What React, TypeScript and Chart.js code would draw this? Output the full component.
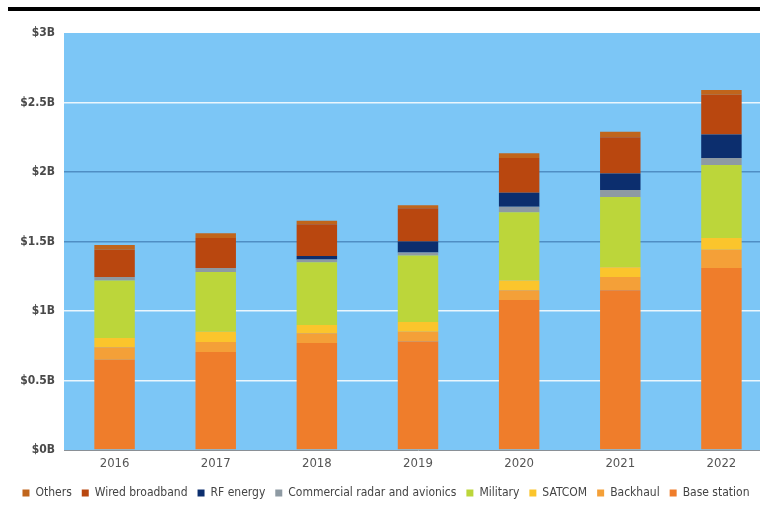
import React, { useEffect, useRef } from "react";
import { Chart, registerables } from "chart.js";

Chart.register(...registerables);

// Market size by segment, $ billions
const years = ["2016", "2017", "2018", "2019", "2020", "2021", "2022"];
const baseStation = [0.65, 0.705, 0.77, 0.78, 1.08, 1.15, 1.31];
const backhaul = [0.09, 0.072, 0.07, 0.07, 0.07, 0.095, 0.13];
const satcom = [0.065, 0.073, 0.06, 0.07, 0.07, 0.07, 0.085];
const military = [0.415, 0.43, 0.45, 0.48, 0.49, 0.505, 0.525];
const commercialRadar = [0.025, 0.03, 0.02, 0.02, 0.04, 0.05, 0.05];
const rfEnergy = [0, 0, 0.025, 0.08, 0.1, 0.12, 0.17];
const wiredBroadband = [0.195, 0.215, 0.23, 0.24, 0.25, 0.26, 0.285];
const others = [0.035, 0.035, 0.025, 0.02, 0.035, 0.04, 0.035];

const yTicks = [0, 0.5, 1, 1.5, 2, 2.5, 3];
const yTickLabels = ["$0B", "$0.5B", "$1B", "$1.5B", "$2B", "$2.5B", "$3B"];

const FONT = "'Liberation Sans Narrow', 'DejaVu Sans Condensed', sans-serif";

const plotBackground = {
  id: "plotBackground",
  beforeDraw(chart: any) {
    const { ctx, chartArea: a } = chart;
    ctx.save();
    ctx.fillStyle = "#7cc6f6";
    ctx.fillRect(a.left, a.top, a.right - a.left, a.bottom - a.top);
    ctx.restore();
  },
};

export default function App() {
  const canvasRef = useRef<HTMLCanvasElement | null>(null);

  useEffect(() => {
    if (!canvasRef.current) return;
    const series = [
      { label: "Base station", data: baseStation, color: "#ef7d2b" },
      { label: "Backhaul", data: backhaul, color: "#f4a038" },
      { label: "SATCOM", data: satcom, color: "#fbc52c" },
      { label: "Military", data: military, color: "#bcd63a" },
      { label: "Commercial radar and avionics", data: commercialRadar, color: "#8e9aa3" },
      { label: "RF energy", data: rfEnergy, color: "#0c2e6e" },
      { label: "Wired broadband", data: wiredBroadband, color: "#b9470f" },
      { label: "Others", data: others, color: "#c0651c" },
    ];
    const chart = new Chart(canvasRef.current, {
      type: "bar",
      data: {
        labels: years,
        datasets: series.map((s) => ({
          label: s.label,
          data: s.data,
          backgroundColor: s.color,
          borderWidth: 0,
          categoryPercentage: 1,
          barPercentage: 0.4,
        })),
      },
      plugins: [plotBackground],
      options: {
        animation: false,
        responsive: false,
        devicePixelRatio: 1,
        layout: { padding: { top: 33, bottom: 4, left: 0, right: 0 } },
        plugins: {
          tooltip: { enabled: false },
          legend: {
            position: "bottom",
            reverse: true,
            labels: {
              boxWidth: 7,
              boxHeight: 7,
              padding: 10,
              color: "#444",
              font: { family: FONT, size: 12 },
            },
          },
        },
        scales: {
          x: {
            stacked: true,
            grid: { display: false, drawTicks: false },
            border: { display: true, color: "#8a9096", width: 1 },
            ticks: { color: "#555", padding: 6, font: { family: FONT, size: 13 } },
            afterFit: (s: any) => {
              s.height = 27;
            },
          },
          y: {
            stacked: true,
            min: 0,
            max: 3,
            border: { display: false },
            grid: {
              drawTicks: false,
              lineWidth: 1.5,
              color: (ctx: any) => {
                const v = ctx.tick ? ctx.tick.value : null;
                if (v === 3 || v === 0) return "rgba(0,0,0,0)";
                if (v === 2 || v === 1.5) return "#4f8ec4";
                return "#eaf6fd";
              },
            },
            ticks: {
              stepSize: 0.5,
              padding: 9,
              color: "#4a4a4a",
              font: { family: FONT, size: 12, weight: "bold" },
              callback: (v: any) => {
                const i = yTicks.indexOf(Number(v));
                return i >= 0 ? yTickLabels[i] : "";
              },
            },
            afterFit: (s: any) => {
              s.width = 64;
            },
          },
        },
      },
    });
    return () => chart.destroy();
  }, []);

  return (
    <div
      style={{
        position: "fixed",
        left: 0,
        top: 0,
        width: 760,
        height: 513,
        overflow: "hidden",
        background: "#ffffff",
      }}
    >
      <div
        style={{
          position: "absolute",
          left: 8,
          top: 7,
          width: 752,
          height: 4,
          background: "#000",
        }}
      />
      <canvas
        ref={canvasRef}
        width={772}
        height={513}
        style={{ position: "absolute", left: 0, top: 0, width: 772, height: 513 }}
      />
    </div>
  );
}
